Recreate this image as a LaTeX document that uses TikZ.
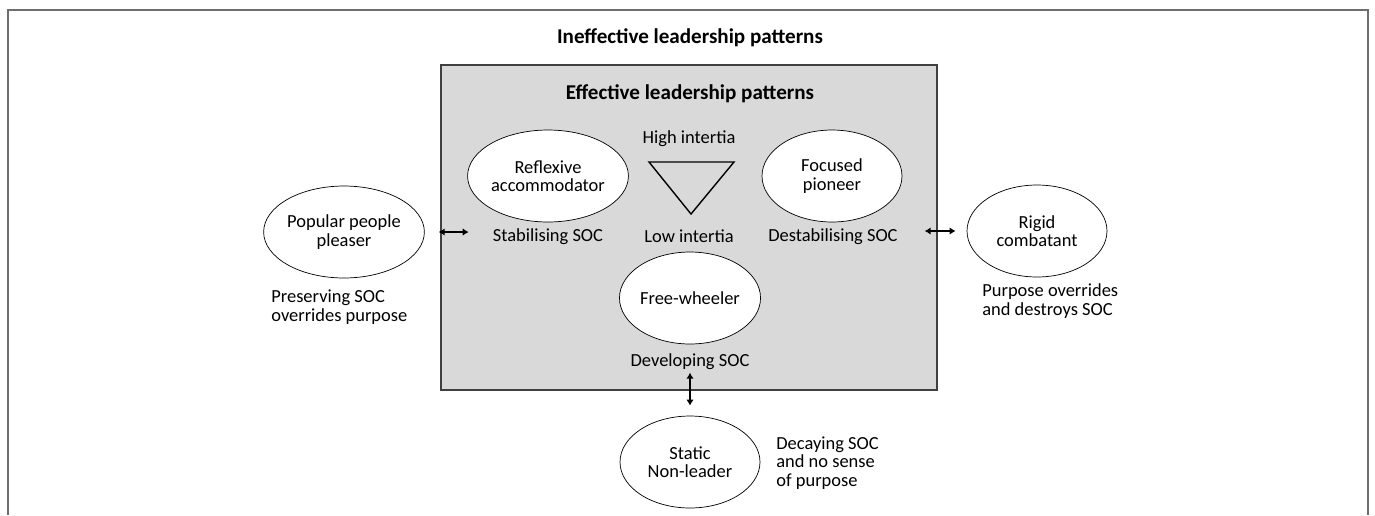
\documentclass[tikz,border=0pt]{standalone}
\usepackage{fontspec}
\setmainfont{Carlito}
\usepackage{xcolor}
\usepackage{tikz}
\usetikzlibrary{arrows.meta, positioning, calc, shapes.geometric}

\definecolor{panelgray}{HTML}{D9D9D9}
\definecolor{framegray}{HTML}{6E6E6E}

\begin{document}
\begin{tikzpicture}[
    x=0.02cm, y=-0.02cm,
    leader/.style={ellipse, draw=black, fill=white, thin, minimum width=2.8cm, minimum height=1.84cm, inner sep=0pt, align=center, font=\fontsize{10.5}{10.5}\selectfont},
    note/.style={align=left, inner sep=0pt, font=\fontsize{10.5}{10.5}\selectfont},
    heading/.style={inner sep=0pt, font=\fontsize{12}{12}\selectfont\bfseries},
    panel/.style={rectangle, draw=black!75, fill=panelgray, line width=0.8pt, minimum width=9.92cm, minimum height=6.5cm, inner sep=0pt},
    link/.style={draw=black, line width=1pt, {Latex[length=1.2mm,width=1.5mm]}-{Latex[length=1.2mm,width=1.5mm]}}
]
    \useasboundingbox (0,0) rectangle (1375,515);

    % Outer frame (open at the bottom)
    \draw[framegray, line width=1pt] (8,515) -- (8,10) -- (1368,10) -- (1368,515);
    \node[heading] (T_INEFF) at (690,38) {Ineffective leadership patterns};

    % Effective patterns panel
    \node[panel] (EFF) at (689,227.5) {};
    \node[heading] (T_EFF) at (690,94) {Effective leadership patterns};

    \node[leader] (RA) at (548,176) {Reflexive\\accommodator};
    \node[leader] (FP) at (832,176) {Focused\\pioneer};
    \node[leader] (FW) at (690,298) {Free-wheeler};

    \node[note] (HI) at (689,139) {High intertia};
    \node[note] (LI) at (689,236) {Low intertia};
    \draw[line width=0.8pt] (649,162) -- (734,162) -- (691,214) -- cycle;

    \node[note] (RA_L) at (548,237) {Stabilising SOC};
    \node[note] (FP_L) at (833,237) {Destabilising SOC};
    \node[note] (FW_L) at (690,362) {Developing SOC};

    % Ineffective patterns
    \node[leader] (PPP) at (344,232) {Popular people\\pleaser};
    \node[leader] (RC)  at (1037,231) {Rigid\\combatant};
    \node[leader] (SNL) at (690,462) {Static\\Non-leader};

    \node[note, anchor=west] (PPP_L) at (271,307) {Preserving SOC\\overrides purpose};
    \node[note, anchor=west] (RC_L)  at (982,301) {Purpose overrides\\and destroys SOC};
    \node[note, anchor=west] (SNL_L) at (776,463) {Decaying SOC\\and no sense\\of purpose};

    % Connections
    \coordinate (PPP_A) at ($(PPP.east)+(14,0)$);
    \coordinate (PPP_B) at ($(PPP.east)+(44,0)$);
    \coordinate (RC_A)  at ($(RC.west)+(-42,0)$);
    \coordinate (RC_B)  at ($(RC.west)+(-11,0)$);
    \coordinate (SNL_A) at ($(SNL.north)+(0,-43)$);
    \coordinate (SNL_B) at ($(SNL.north)+(0,-10)$);
    \draw[link] (PPP_A) -- (PPP_B);
    \draw[link] (RC_A) -- (RC_B);
    \draw[link] (SNL_A) -- (SNL_B);
\end{tikzpicture}
\end{document}
